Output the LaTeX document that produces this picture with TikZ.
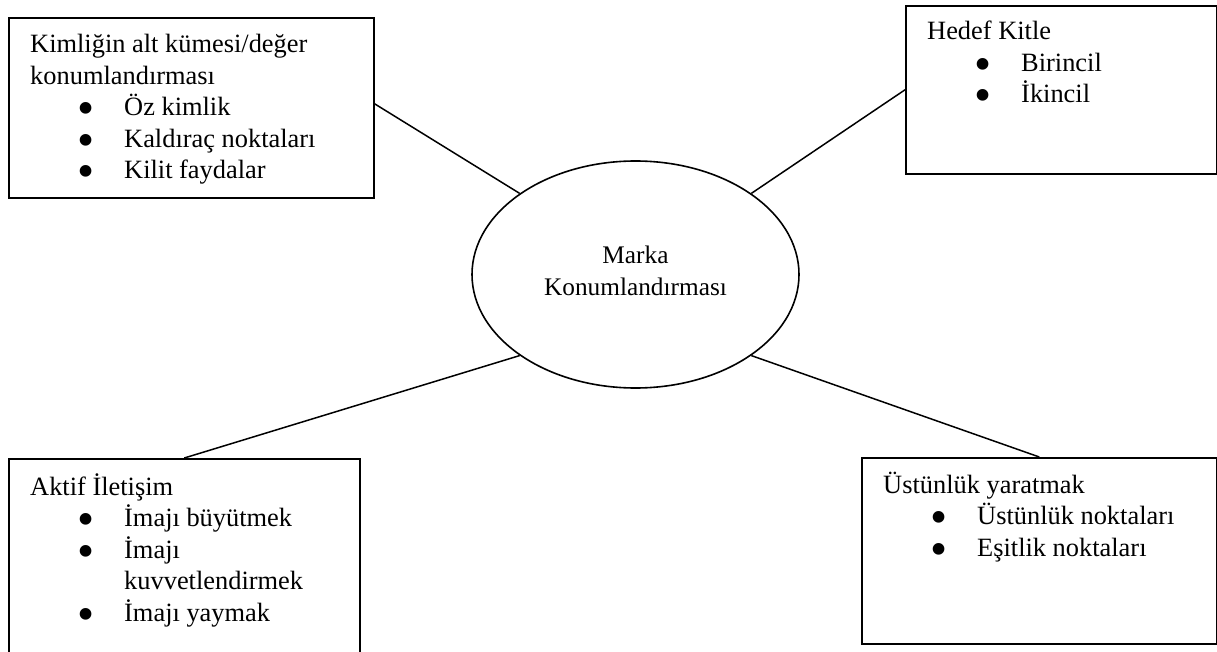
\documentclass[tikz,border=0pt]{standalone}
\usepackage{fontspec}
\setmainfont{Liberation Serif}
\usetikzlibrary{shapes.geometric}

% text sizes and leading
\newcommand\mainsize{\fontsize{26.4}{31.5}\selectfont}
\newcommand\coresize{\fontsize{25.3}{32}\selectfont}
% large round bullet, sitting at mid x-height
\newcommand\bdot{\smash{\raisebox{-9pt}{\scalebox{1.85}{•}}}}
% bulleted entry and its continuation line
\newcommand\bitem[1]{\hspace*{47pt}\makebox[47pt][l]{\bdot}#1}
\newcommand\bcont[1]{\hspace*{94pt}#1}

\begin{document}
\begin{tikzpicture}[x=1pt,y=-1pt,
  frame/.style={draw, line width=1.6pt, inner sep=0pt, anchor=north west},
  link/.style={line width=1.5pt},
  boxtext/.style={anchor=base west, inner sep=0pt, font=\mainsize},
  core/.style={draw, ellipse, line width=1.6pt, inner sep=0pt,
    minimum width=327pt, minimum height=227pt},
]
\path[use as bounding box, fill=white] (0,0) rectangle (1217,652);
\clip (0,0) rectangle (1217,652);

% central ellipse
\node[core] (core) at (635.5,274.5) {};
\node[font=\coresize, align=center, inner sep=0pt] (corelabel)
  at ([yshift=4pt]core.center) {Marka\\Konumlandırması};

% the four frames
\node[frame, minimum width=365pt, minimum height=180pt] (b1) at (8,17) {};
\node[frame, minimum width=311pt, minimum height=168pt] (b2) at (905,5) {};
\node[frame, minimum width=351pt, minimum height=230pt] (b3) at (8,458) {};
\node[frame, minimum width=355pt, minimum height=186pt] (b4) at (861,457) {};

% frame contents
\node[boxtext] (t1) at (30,53) {\parbox[t]{340pt}{\raggedright
  Kimliğin alt kümesi/değer\\
  konumlandırması\\
  \bitem{Öz kimlik}\\
  \bitem{Kaldıraç noktaları}\\
  \bitem{Kilit faydalar}}};
\node[boxtext] (t2) at (927,40) {\parbox[t]{280pt}{\raggedright
  Hedef Kitle\\
  \bitem{Birincil}\\
  \bitem{İkincil}}};
\node[boxtext] (t3) at (30,495) {\parbox[t]{330pt}{\raggedright
  Aktif İletişim\\
  \bitem{İmajı büyütmek}\\
  \bitem{İmajı}\\
  \bcont{kuvvetlendirmek}\\
  \bitem{İmajı yaymak}}};
\node[boxtext] (t4) at (883,493) {\parbox[t]{330pt}{\raggedright
  Üstünlük yaratmak\\
  \bitem{Üstünlük noktaları}\\
  \bitem{Eşitlik noktaları}}};

% connectors from the frames to the ellipse
\draw[link] ([yshift=4pt]b1.east) -- (core.145);
\draw[link] (b2.west) -- (core.35);
\draw[link] (b3.north) -- (core.215);
\draw[link] (b4.north) -- (core.325);
\end{tikzpicture}
\end{document}
